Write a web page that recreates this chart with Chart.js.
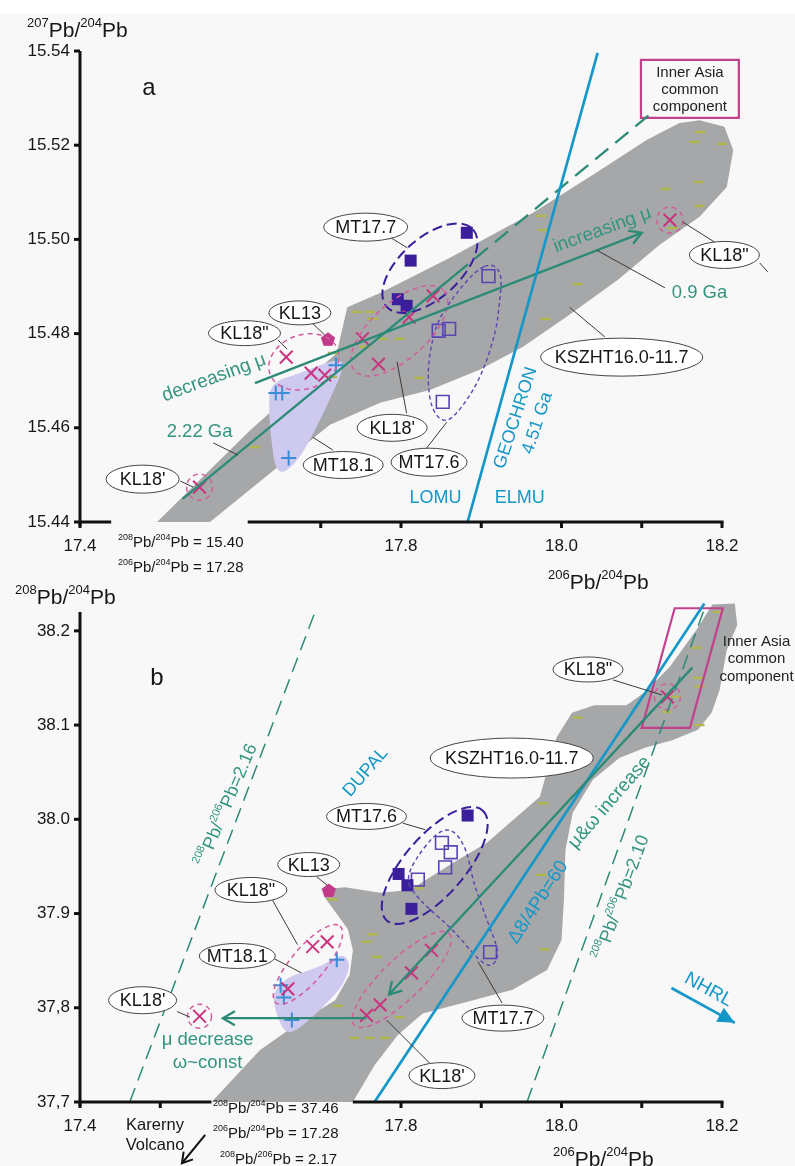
<!DOCTYPE html>
<html>
<head>
<meta charset="utf-8">
<title>Pb isotope diagrams</title>
<script src="https://cdn.jsdelivr.net/npm/chart.js@4.4.1/dist/chart.umd.min.js"></script>
<style>
  body { margin: 0; background: #fff; }
  #wrap { position: relative; width: 795px; height: 1166px; overflow: hidden; }
  #bg { position: absolute; left: 0; top: 14px; width: 795px; height: 1152px; background: #f8f8f8; }
  canvas { position: absolute; left: 0; }
  #chartA { top: 0; }
  #chartB { top: 580px; }
</style>
</head>
<body>
<div id="wrap">
  <div id="bg"></div>
  <canvas id="chartA" width="795" height="600"></canvas>
  <canvas id="chartB" width="795" height="586"></canvas>
</div>
<script>
// 206Pb/204Pb axis, shared by both panels
const xTickValues = [17.4, 17.5, 17.6, 17.7, 17.8, 17.9, 18.0, 18.1, 18.2];
const xTickLabels = ['17.4', '', '', '', '17.8', '', '18.0', '', '18.2'];

// ---------- panel a : 207Pb/204Pb ----------
const yTicksA = [15.44, 15.46, 15.48, 15.50, 15.52, 15.54];
const yLabelsA = ['15.44', '15.46', '15.48', '15.50', '15.52', '15.54'];

const kszhtA = [
  [18.173, 15.5228], [18.166, 15.5207], [18.200, 15.5203], [18.130, 15.5107], [18.171, 15.5122],
  [18.172, 15.5071], [18.138, 15.5024], [17.975, 15.5050], [17.977, 15.5020], [18.020, 15.4905],
  [17.980, 15.4831], [17.823, 15.4706], [17.798, 15.4789], [17.777, 15.4789], [17.755, 15.4772],
  [17.745, 15.4846], [17.761, 15.4846], [17.765, 15.4831], [17.715, 15.4759], [17.714, 15.4708],
  [17.618, 15.4559]
];
const mt177A = [[17.812, 15.4955], [17.882, 15.5014], [17.796, 15.4873], [17.807, 15.4859]];
const mt176A = [[17.909, 15.4922], [17.847, 15.4806], [17.860, 15.4810], [17.852, 15.4655]];
const kl18A = [
  [17.549, 15.4474], [17.657, 15.4750], [17.688, 15.4716], [17.705, 15.4712], [17.752, 15.4789],
  [17.772, 15.4735], [17.810, 15.4835], [17.840, 15.4880], [18.135, 15.5041]
];
const mt181A = [[17.644, 15.4674], [17.652, 15.4674], [17.660, 15.4536], [17.719, 15.4733]];
const kl13A = [[17.709, 15.4789]];

// KSZHT16.0-11.7 field and MT18.1 field outlines
const kszhtFieldA = [
  [17.496, 15.4400], [17.562, 15.4400], [17.711, 15.4606], [17.774, 15.4653], [17.836, 15.4680],
  [17.898, 15.4723], [17.952, 15.4772], [18.006, 15.4835], [18.070, 15.4914], [18.122, 15.4988],
  [18.172, 15.5048], [18.206, 15.5111], [18.214, 15.5190], [18.203, 15.5239], [18.172, 15.5253],
  [18.147, 15.5247], [18.106, 15.5211], [18.048, 15.5147], [17.964, 15.5056], [17.861, 15.4961],
  [17.774, 15.4886], [17.733, 15.4856], [17.720, 15.4759], [17.612, 15.4595]
];
const mt181FieldA = [
  [17.637, 15.4695], [17.674, 15.4716], [17.724, 15.4750], [17.729, 15.4727], [17.711, 15.4659],
  [17.695, 15.4602], [17.674, 15.4536], [17.655, 15.4504], [17.644, 15.4510], [17.639, 15.4563],
  [17.635, 15.4638]
];
const mt176OutlineA = [
  [17.914, 15.4950], [17.926, 15.4924], [17.923, 15.4871], [17.919, 15.4808], [17.901, 15.4712],
  [17.876, 15.4642], [17.855, 15.4608], [17.838, 15.4638], [17.833, 15.4701], [17.836, 15.4765],
  [17.846, 15.4829], [17.867, 15.4882], [17.894, 15.4935]
];

// reference lines
const isochron222A = [[17.528, 15.4449], [17.867, 15.4924]];
const innerAsiaTrendA = [[17.867, 15.4924], [18.112, 15.5268]];
const muTrendA = [[17.618, 15.4695], [18.100, 15.5014]];
const geochronA = [[17.883, 15.4400], [18.045, 15.5396]];

// ---------- panel b : 208Pb/204Pb ----------
const yTicksB = [37.7, 37.8, 37.9, 38.0, 38.1, 38.2];
const yLabelsB = ['37,7', '37,8', '37.9', '38.0', '38.1', '38.2'];

const kszhtB = [
  [18.195, 38.220], [18.168, 38.182], [18.170, 38.150], [18.172, 38.141], [18.143, 38.130],
  [18.131, 38.114], [18.172, 38.100], [18.020, 38.108], [17.977, 38.017], [17.975, 37.941],
  [17.979, 37.862], [17.715, 37.915], [17.765, 37.878], [17.757, 37.870], [17.770, 37.854],
  [17.721, 37.802], [17.823, 37.927], [17.798, 37.790], [17.742, 37.768], [17.761, 37.768],
  [17.780, 37.768]
];
const mt176B = [[17.883, 38.004], [17.797, 37.942], [17.808, 37.930], [17.813, 37.905]];
const mt177B = [[17.851, 37.975], [17.862, 37.965], [17.855, 37.949], [17.821, 37.936], [17.911, 37.859]];
const kl18B = [
  [17.690, 37.865], [17.708, 37.870], [17.659, 37.820], [17.838, 37.861], [17.813, 37.837],
  [17.774, 37.803], [17.757, 37.792], [17.549, 37.791], [18.132, 38.130]
];
const mt181B = [[17.650, 37.824], [17.654, 37.811], [17.720, 37.851], [17.664, 37.787]];
const kl13B = [[17.710, 37.925]];

const kszhtFieldB = [
  [17.564, 37.700], [17.624, 37.755], [17.674, 37.785], [17.718, 37.808], [17.736, 37.835],
  [17.740, 37.861], [17.734, 37.883], [17.718, 37.902], [17.705, 37.917], [17.709, 37.926],
  [17.730, 37.928], [17.774, 37.922], [17.811, 37.925], [17.865, 37.954], [17.907, 37.975],
  [17.973, 38.024], [17.994, 38.087], [18.013, 38.113], [18.041, 38.121], [18.081, 38.121],
  [18.104, 38.135], [18.135, 38.162], [18.168, 38.201], [18.188, 38.228], [18.216, 38.229],
  [18.219, 38.206], [18.206, 38.180], [18.197, 38.137], [18.187, 38.113], [18.170, 38.095],
  [18.138, 38.084], [18.104, 38.076], [18.072, 38.065], [18.039, 38.042], [18.014, 38.007],
  [18.005, 37.968], [18.003, 37.914], [18.000, 37.872], [17.982, 37.840], [17.939, 37.819],
  [17.877, 37.805], [17.827, 37.794], [17.796, 37.771], [17.767, 37.739], [17.740, 37.700]
];
const mt181FieldB = [
  [17.640, 37.816], [17.658, 37.833], [17.699, 37.843], [17.718, 37.854], [17.730, 37.856],
  [17.737, 37.845], [17.728, 37.824], [17.708, 37.805], [17.686, 37.787], [17.665, 37.773],
  [17.653, 37.776], [17.643, 37.798]
];
const mt177OutlineB = [
  [17.807, 37.936], [17.817, 37.957], [17.845, 37.987], [17.865, 37.990], [17.882, 37.968],
  [17.889, 37.936], [17.907, 37.893], [17.923, 37.858], [17.914, 37.843], [17.898, 37.849],
  [17.865, 37.883], [17.832, 37.907], [17.815, 37.923]
];
const innerAsiaBoxB = [[18.141, 38.224], [18.201, 38.224], [18.160, 38.097], [18.100, 38.097]];

const delta84B = [[17.767, 37.700], [18.178, 38.229]];
const thu216B = [[17.462, 37.700], [17.695, 38.225]];
const thu210B = [[17.957, 37.700], [18.180, 38.228]];
const muOmegaB = [[18.163, 38.161], [17.785, 37.814]];
const muDecreaseB = [[17.757, 37.789], [17.578, 37.789]];
const nhrlB = [[18.137, 37.821], [18.216, 37.784]];
const karernyB = [[17.556, 37.665], [17.527, 37.635]];

// ---------- styling ----------
const FONT = '"Liberation Sans", Arial, Helvetica, sans-serif';
const TEAL = '#2c8b77';
const TEAL_TEXT = '#33957f';
const CYAN = '#1597c8';
const MAGENTA = '#c8357f';
const MAGENTA_DASH = '#d45b9c';
const INDIGO = '#3a1e9c';
const VIOLET = '#5a44b3';
const PLUS_BLUE = '#3b8dd6';
const FIELD_GRAY = '#a5a7a9';
const LAVENDER = '#cec9ef';
const OLIVE = '#b3b84a';
const INK = '#161616';

function toXY(arr) {
  return arr.map(([x, y]) => ({ x, y }));
}

function pentagon(size, color) {
  const c = document.createElement('canvas');
  c.width = c.height = size;
  const g = c.getContext('2d');
  g.beginPath();
  for (let i = 0; i < 5; i++) {
    const a = -Math.PI / 2 + i * 2 * Math.PI / 5;
    const r = size / 2 - 0.5;
    g.lineTo(size / 2 + r * Math.cos(a), size / 2 + 1 + r * Math.sin(a));
  }
  g.closePath();
  g.fillStyle = color;
  g.fill();
  return c;
}

function pointSets(s) {
  return [
    { data: toXY(s.kszht), order: 6, pointStyle: 'line', pointRadius: 5, pointBorderWidth: 2.4, pointBorderColor: OLIVE },
    { data: toXY(s.plus), order: 5, pointStyle: 'cross', pointRadius: 7.5, pointBorderWidth: 2, pointBorderColor: PLUS_BLUE },
    { data: toXY(s.open), order: 4, pointStyle: 'rect', pointRadius: 9, pointBorderWidth: 1.6, pointBorderColor: VIOLET, pointBackgroundColor: 'rgba(0,0,0,0)' },
    { data: toXY(s.filled), order: 3, pointStyle: 'rect', pointRadius: 8.5, pointBorderWidth: 0, pointBorderColor: INDIGO, pointBackgroundColor: INDIGO },
    { data: toXY(s.cross), order: 2, pointStyle: 'crossRot', pointRadius: 9, pointBorderWidth: 2, pointBorderColor: MAGENTA },
    { data: toXY(s.penta), order: 1, pointStyle: pentagon(16, '#c23a8a'), pointRadius: 8 }
  ].map(d => Object.assign({ clip: false, showLine: false }, d));
}

// text with superscript runs written as ^208
function richText(ctx, str, x, y, size, color, align, rot) {
  const parts = [];
  str.replace(/\^(\d+)|[^^]+/g, (m, sup) => { parts.push(sup ? { t: sup, sup: true } : { t: m, sup: false }); return m; });
  const supSize = Math.round(size * 0.6);
  let total = 0;
  parts.forEach(p => {
    ctx.font = (p.sup ? supSize : size) + 'px ' + FONT;
    p.w = ctx.measureText(p.t).width;
    total += p.w;
  });
  ctx.save();
  ctx.translate(x, y);
  if (rot) ctx.rotate(rot * Math.PI / 180);
  let cx = align === 'left' ? 0 : (align === 'right' ? -total : -total / 2);
  ctx.fillStyle = color;
  ctx.textAlign = 'left';
  ctx.textBaseline = 'middle';
  parts.forEach(p => {
    ctx.font = (p.sup ? supSize : size) + 'px ' + FONT;
    ctx.fillText(p.t, cx, p.sup ? -size * 0.36 : 0);
    cx += p.w;
  });
  ctx.restore();
}

function smoothClosed(ctx, pts) {
  const n = pts.length;
  const mid = (p, q) => ({ x: (p.x + q.x) / 2, y: (p.y + q.y) / 2 });
  const m0 = mid(pts[n - 1], pts[0]);
  ctx.moveTo(m0.x, m0.y);
  for (let i = 0; i < n; i++) {
    const m = mid(pts[i], pts[(i + 1) % n]);
    ctx.quadraticCurveTo(pts[i].x, pts[i].y, m.x, m.y);
  }
  ctx.closePath();
}

function arrowHead(ctx, from, to, len, half, filled) {
  const ang = Math.atan2(to.y - from.y, to.x - from.x);
  const bx = to.x - len * Math.cos(ang), by = to.y - len * Math.sin(ang);
  ctx.beginPath();
  ctx.moveTo(bx + half * Math.sin(ang), by - half * Math.cos(ang));
  ctx.lineTo(to.x, to.y);
  ctx.lineTo(bx - half * Math.sin(ang), by + half * Math.cos(ang));
  if (filled) { ctx.closePath(); ctx.fill(); } else { ctx.stroke(); }
}

// draws fields, group outlines, trend lines, labels and the broken axes
function overlay(spec) {
  const P = (chart, p) => ({ x: chart.scales.x.getPixelForValue(p[0]), y: chart.scales.y.getPixelForValue(p[1]) });
  return {
    id: 'overlay',
    beforeDatasetsDraw(chart) {
      const ctx = chart.ctx;
      ctx.save();
      spec.fields.forEach(f => {
        const pts = f.pts.map(p => P(chart, p));
        ctx.beginPath();
        if (f.smooth) {
          smoothClosed(ctx, pts);
        } else {
          pts.forEach((p, i) => i ? ctx.lineTo(p.x, p.y) : ctx.moveTo(p.x, p.y));
          ctx.closePath();
        }
        ctx.fillStyle = f.color;
        ctx.fill();
      });
      ctx.restore();
    },
    afterDatasetsDraw(chart) {
      const ctx = chart.ctx;
      ctx.save();
      ctx.lineCap = 'butt';

      // dashed group outlines
      spec.groups.forEach(g => {
        ctx.beginPath();
        if (g.pts) {
          smoothClosed(ctx, g.pts.map(p => P(chart, p)));
        } else {
          const c = P(chart, g.at);
          ctx.ellipse(c.x, c.y, g.a, g.b, g.rot * Math.PI / 180, 0, 2 * Math.PI);
        }
        ctx.setLineDash(g.dash);
        ctx.lineWidth = g.width;
        ctx.strokeStyle = g.color;
        ctx.stroke();
      });
      ctx.setLineDash([]);

      // boxes
      spec.boxes.forEach(b => {
        ctx.beginPath();
        b.pts.map(p => P(chart, p)).forEach((p, i) => i ? ctx.lineTo(p.x, p.y) : ctx.moveTo(p.x, p.y));
        ctx.closePath();
        ctx.lineWidth = 2.2;
        ctx.strokeStyle = '#c2418c';
        ctx.stroke();
      });

      // reference and trend lines
      spec.lines.forEach(l => {
        const a = P(chart, l.pts[0]), b = P(chart, l.pts[1]);
        ctx.beginPath();
        ctx.moveTo(a.x, a.y);
        ctx.lineTo(b.x, b.y);
        ctx.setLineDash(l.dash || []);
        ctx.lineWidth = l.width;
        ctx.strokeStyle = l.color;
        ctx.stroke();
        ctx.setLineDash([]);
        if (l.head) {
          ctx.fillStyle = l.color;
          if (l.head === 'filled') arrowHead(ctx, a, b, 17, 8, true);
          else arrowHead(ctx, a, b, 12, 7, false);
        }
      });

      // leader lines to the sample tags
      ctx.lineWidth = 1;
      ctx.strokeStyle = '#3a3a3a';
      spec.leaders.forEach(([p, q]) => {
        const a = P(chart, p), b = P(chart, q);
        ctx.beginPath();
        ctx.moveTo(a.x, a.y);
        ctx.lineTo(b.x, b.y);
        ctx.stroke();
      });

      // sample tags in ellipses
      spec.tags.forEach(([text, x, y, w, h]) => {
        const c = P(chart, [x, y]);
        ctx.beginPath();
        ctx.ellipse(c.x, c.y, w / 2, h / 2, 0, 0, 2 * Math.PI);
        ctx.fillStyle = '#fff';
        ctx.fill();
        ctx.lineWidth = 1;
        ctx.strokeStyle = '#444';
        ctx.stroke();
        ctx.fillStyle = INK;
        ctx.font = '18px ' + FONT;
        ctx.textAlign = 'center';
        ctx.textBaseline = 'middle';
        ctx.fillText(text, c.x, c.y + 1);
      });

      // free text
      spec.texts.forEach(t => {
        const c = P(chart, t.at);
        richText(ctx, t.t, c.x, c.y, t.size || 18, t.color || INK, 'center', t.rot || 0);
      });
      ctx.restore();
    },
    afterDraw(chart) {
      const ctx = chart.ctx;
      const xs = chart.scales.x, ys = chart.scales.y, area = chart.chartArea;
      ctx.save();
      ctx.strokeStyle = '#111';
      ctx.lineWidth = 3;
      ctx.beginPath();
      ctx.moveTo(area.left, area.bottom + 4);
      ctx.lineTo(area.left, area.top);
      ctx.stroke();
      spec.yTicks.forEach(v => {
        const y = ys.getPixelForValue(v);
        ctx.beginPath();
        ctx.moveTo(area.left - 6, y);
        ctx.lineTo(area.left, y);
        ctx.stroke();
      });
      spec.axisSegments.forEach(([a, b]) => {
        ctx.beginPath();
        ctx.moveTo(xs.getPixelForValue(a), area.bottom);
        ctx.lineTo(xs.getPixelForValue(b) + 1.5, area.bottom);
        ctx.stroke();
      });
      xTickValues.forEach(v => {
        if (!spec.axisSegments.some(([a, b]) => v >= a - 1e-6 && v <= b + 1e-6)) return;
        const x = xs.getPixelForValue(v);
        ctx.beginPath();
        ctx.moveTo(x, area.bottom);
        ctx.lineTo(x, area.bottom + 6);
        ctx.stroke();
      });
      spec.notes.forEach(n => richText(ctx, n.t, n.x, n.y, n.size, n.color || INK, n.align || 'left', 0));
      if (spec.karerny) {
        const a = P(chart, spec.karerny[0]), b = P(chart, spec.karerny[1]);
        ctx.lineWidth = 2;
        ctx.strokeStyle = '#111';
        ctx.beginPath();
        ctx.moveTo(a.x, a.y);
        ctx.lineTo(b.x, b.y);
        ctx.stroke();
        arrowHead(ctx, a, b, 10, 6, false);
      }
      ctx.restore();
    }
  };
}

function makeChart(id, pts, yMin, yMax, yTicks, yLabels, padTop, xHeight, spec) {
  spec.yTicks = yTicks;
  return new Chart(document.getElementById(id), {
    type: 'scatter',
    data: { datasets: pointSets(pts) },
    options: {
      responsive: false,
      animation: false,
      devicePixelRatio: 1,
      events: [],
      layout: { padding: { top: padTop, right: 73, left: 0, bottom: 0 } },
      plugins: { legend: { display: false }, tooltip: { enabled: false } },
      scales: {
        x: {
          type: 'linear', min: 17.4, max: 18.2,
          grid: { display: false, drawTicks: false }, border: { display: false },
          afterBuildTicks: axis => { axis.ticks = xTickValues.map(v => ({ value: v })); },
          afterFit: scale => { scale.height = xHeight; },
          ticks: {
            autoSkip: false, maxRotation: 0, padding: 14, color: INK,
            font: { family: FONT, size: 17 },
            callback: (v, i) => xTickLabels[i]
          }
        },
        y: {
          type: 'linear', min: yMin, max: yMax,
          grid: { display: false, drawTicks: false }, border: { display: false },
          afterBuildTicks: axis => { axis.ticks = yTicks.map(v => ({ value: v })); },
          afterFit: scale => { scale.width = 80; },
          ticks: {
            autoSkip: false, padding: 10, color: INK,
            font: { family: FONT, size: 17 },
            callback: (v, i) => yLabels[i]
          }
        }
      }
    },
    plugins: [overlay(spec)]
  });
}

const magentaDash = { color: MAGENTA_DASH, dash: [5, 4], width: 1.5 };
const indigoDash = { color: INDIGO, dash: [10, 5], width: 2 };
const violetDash = { color: VIOLET, dash: [4, 3], width: 1.4 };

makeChart('chartA',
  { kszht: kszhtA, plus: mt181A, open: mt176A, filled: mt177A, cross: kl18A, penta: kl13A },
  15.44, 15.54, yTicksA, yLabelsA, 51, 78,
  {
    fields: [
      { pts: kszhtFieldA, color: FIELD_GRAY },
      { pts: mt181FieldA, color: LAVENDER, smooth: true }
    ],
    groups: [
      Object.assign({ at: [17.836, 15.4939], a: 58, b: 30, rot: -42 }, indigoDash),
      Object.assign({ pts: mt176OutlineA }, violetDash),
      Object.assign({ at: [17.679, 15.4740], a: 36, b: 27, rot: -20 }, magentaDash),
      Object.assign({ at: [17.798, 15.4806], a: 60, b: 28, rot: -42 }, magentaDash),
      Object.assign({ at: kl18A[0], a: 13, b: 13, rot: 0 }, magentaDash),
      Object.assign({ at: kl18A[8], a: 13, b: 13, rot: 0 }, magentaDash)
    ],
    boxes: [
      { pts: [[18.099, 15.5381], [18.221, 15.5381], [18.221, 15.5258], [18.099, 15.5258]] }
    ],
    lines: [
      { pts: isochron222A, color: TEAL, width: 2.3 },
      { pts: innerAsiaTrendA, color: TEAL, width: 2.3, dash: [17, 9] },
      { pts: muTrendA, color: TEAL, width: 2.3, head: 'open' },
      { pts: geochronA, color: CYAN, width: 2.7 }
    ],
    leaders: [
      [[17.566, 15.4568], [17.597, 15.4542]],
      [[18.044, 15.4977], [18.129, 15.4897]],
      [[17.784, 15.5007], [17.808, 15.4982]],
      [[17.689, 15.4823], [17.705, 15.4797]],
      [[17.647, 15.4786], [17.658, 15.4767]],
      [[17.525, 15.4487], [17.541, 15.4474]],
      [[17.715, 15.4553], [17.690, 15.4580]],
      [[17.807, 15.4631], [17.795, 15.4740]],
      [[17.832, 15.4557], [17.857, 15.4612]],
      [[18.054, 15.4793], [18.010, 15.4856]],
      [[18.191, 15.4994], [18.151, 15.5037]],
      [[18.247, 15.4950], [18.257, 15.4931]]
    ],
    tags: [
      ['MT17.7', 17.756, 15.5026, 84, 28],
      ['KL13', 17.674, 15.4844, 62, 24],
      ['KL18"', 17.605, 15.4801, 72, 25],
      ["KL18'", 17.478, 15.4491, 73, 28],
      ['MT18.1', 17.728, 15.4521, 80, 27],
      ["KL18'", 17.789, 15.4600, 70, 27],
      ['MT17.6', 17.835, 15.4527, 76, 28],
      ['KSZHT16.0-11.7', 18.075, 15.4750, 162, 38],
      ['KL18"', 18.203, 15.4967, 70, 27]
    ],
    texts: [
      { t: 'a', at: [17.486, 15.5321], size: 24 },
      { t: 'decreasing μ', at: [17.567, 15.4706], rot: -20, color: TEAL_TEXT, size: 19 },
      { t: 'increasing μ', at: [18.051, 15.5020], rot: -20, color: TEAL_TEXT, size: 19 },
      { t: '2.22 Ga', at: [17.549, 15.4591], color: TEAL_TEXT, size: 18.5 },
      { t: '0.9 Ga', at: [18.172, 15.4886], color: TEAL_TEXT, size: 18.5 },
      { t: 'GEOCHRON', at: [17.943, 15.4621], rot: -72, color: CYAN, size: 18 },
      { t: '4.51 Ga', at: [17.970, 15.4610], rot: -72, color: CYAN, size: 18 },
      { t: 'LOMU', at: [17.843, 15.4451], color: CYAN, size: 18 },
      { t: 'ELMU', at: [17.948, 15.4451], color: CYAN, size: 18 },
      { t: 'Inner Asia', at: [18.160, 15.5353], size: 15, color: '#222' },
      { t: 'common', at: [18.160, 15.5317], size: 15, color: '#222' },
      { t: 'component', at: [18.160, 15.5281], size: 15, color: '#222' }
    ],
    axisSegments: [[17.4, 17.437], [17.609, 18.2]],
    notes: [
      { t: '^207Pb/^204Pb', x: 27, y: 31, size: 21 },
      { t: '^206Pb/^204Pb', x: 548, y: 583, size: 21 },
      { t: '^208Pb/^204Pb = 15.40', x: 118, y: 543, size: 15 },
      { t: '^206Pb/^204Pb = 17.28', x: 118, y: 568, size: 15 }
    ]
  });

makeChart('chartB',
  { kszht: kszhtB, plus: mt181B, open: mt177B, filled: mt176B, cross: kl18B, penta: kl13B },
  37.7, 38.22, yTicksB, yLabelsB, 32, 64,
  {
    fields: [
      { pts: kszhtFieldB, color: FIELD_GRAY },
      { pts: mt181FieldB, color: LAVENDER, smooth: true }
    ],
    groups: [
      Object.assign({ at: [17.842, 37.951], a: 73, b: 30, rot: -49 }, indigoDash),
      Object.assign({ pts: mt177OutlineB }, violetDash),
      Object.assign({ at: [17.684, 37.846], a: 50, b: 17, rot: -50 }, magentaDash),
      Object.assign({ at: [17.801, 37.830], a: 66, b: 20, rot: -44 }, magentaDash),
      Object.assign({ at: kl18B[7], a: 12, b: 12, rot: 0 }, magentaDash),
      Object.assign({ at: kl18B[8], a: 13, b: 13, rot: 0 }, magentaDash)
    ],
    boxes: [{ pts: innerAsiaBoxB }],
    lines: [
      { pts: thu216B, color: TEAL, width: 1.5, dash: [15, 8] },
      { pts: thu210B, color: TEAL, width: 1.5, dash: [15, 8] },
      { pts: delta84B, color: CYAN, width: 2.7 },
      { pts: muOmegaB, color: TEAL, width: 2.3, head: 'open' },
      { pts: muDecreaseB, color: TEAL, width: 2.3, head: 'open' },
      { pts: nhrlB, color: CYAN, width: 2.7, head: 'filled' }
    ],
    leaders: [
      [[18.064, 38.148], [18.125, 38.132]],
      [[17.802, 37.996], [17.830, 37.989]],
      [[17.695, 37.939], [17.708, 37.930]],
      [[17.640, 37.914], [17.671, 37.867]],
      [[17.640, 37.853], [17.676, 37.837]],
      [[17.521, 37.796], [17.537, 37.790]],
      [[17.926, 37.805], [17.896, 37.849]],
      [[17.836, 37.741], [17.782, 37.787]]
    ],
    tags: [
      ['KL18"', 18.033, 38.159, 70, 25],
      ['KSZHT16.0-11.7', 17.938, 38.065, 163, 40],
      ['MT17.6', 17.757, 38.003, 80, 26],
      ['KL13', 17.685, 37.952, 62, 24],
      ['KL18"', 17.613, 37.925, 72, 25],
      ['MT18.1', 17.596, 37.855, 76, 25],
      ["KL18'", 17.478, 37.808, 68, 27],
      ['MT17.7', 17.927, 37.789, 82, 26],
      ["KL18'", 17.851, 37.728, 66, 26]
    ],
    texts: [
      { t: 'b', at: [17.496, 38.150], size: 24 },
      { t: 'DUPAL', at: [17.756, 38.050], rot: -49, color: CYAN, size: 18 },
      { t: '^208Pb/^206Pb=2.16', at: [17.583, 38.015], rot: -67, color: TEAL_TEXT, size: 18 },
      { t: 'Δ8/4Pb=60', at: [17.971, 37.912], rot: -57, color: CYAN, size: 19 },
      { t: 'μ&ω increase', at: [18.060, 38.018], rot: -49, color: TEAL_TEXT, size: 19 },
      { t: '^208Pb/^206Pb=2.10', at: [18.075, 37.917], rot: -70, color: TEAL_TEXT, size: 18 },
      { t: 'μ decrease', at: [17.559, 37.766], color: TEAL_TEXT, size: 18.5 },
      { t: 'ω~const', at: [17.559, 37.742], color: TEAL_TEXT, size: 18.5 },
      { t: 'NHRL', at: [18.183, 37.819], rot: 29, color: CYAN, size: 19 },
      { t: 'Inner Asia', at: [18.243, 38.188], size: 15, color: '#222' },
      { t: 'common', at: [18.243, 38.170], size: 15, color: '#222' },
      { t: 'component', at: [18.243, 38.151], size: 15, color: '#222' }
    ],
    axisSegments: [[17.4, 17.562], [17.740, 18.2]],
    karerny: karernyB,
    notes: [
      { t: '^208Pb/^204Pb', x: 15, y: 18, size: 21 },
      { t: '^206Pb/^204Pb', x: 553, y: 580, size: 21 },
      { t: '^208Pb/^204Pb = 37.46', x: 213, y: 529, size: 15 },
      { t: '^206Pb/^204Pb = 17.28', x: 213, y: 554, size: 15 },
      { t: '^208Pb/^206Pb = 2.17', x: 220, y: 580, size: 15 },
      { t: 'Karerny', x: 155, y: 545, size: 16.5, align: 'center' },
      { t: 'Volcano', x: 155, y: 565, size: 16.5, align: 'center' }
    ]
  });
</script>
</body>
</html>
